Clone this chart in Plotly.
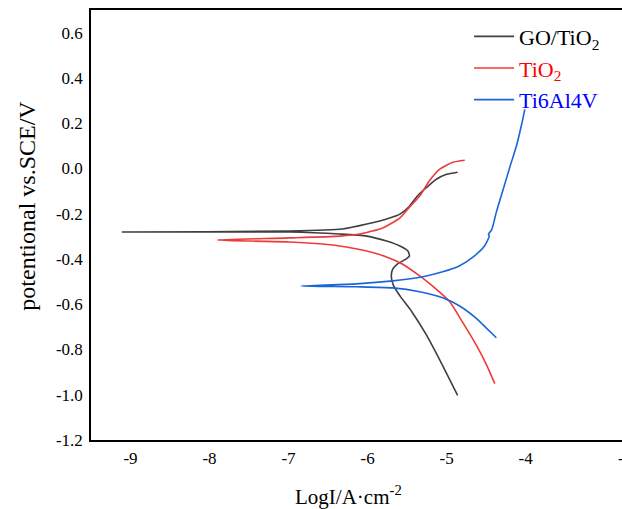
import plotly.graph_objects as go

# ---- data (log current density, potential) ----
# GO/TiO2
go_cath_logi = [-9.11, -8.25, -6.99, -6.35, -6.01, -5.76, -5.59, -5.49, -5.47, -5.51, -5.62, -5.68, -5.70, -5.67, -5.59, -5.44, -5.25, -5.05, -4.86]
go_cath_e = [-0.281, -0.281, -0.281, -0.290, -0.299, -0.321, -0.343, -0.365, -0.387, -0.400, -0.422, -0.444, -0.475, -0.519, -0.563, -0.633, -0.739, -0.871, -1.003]
go_anod_logi = [-9.11, -6.99, -6.32, -6.01, -5.72, -5.59, -5.47, -5.37, -5.25, -5.13, -5.00, -4.86]
go_anod_e = [-0.281, -0.277, -0.268, -0.246, -0.219, -0.202, -0.167, -0.122, -0.083, -0.048, -0.026, -0.017]

# TiO2
tio2_cath_logi = [-7.90, -7.49, -6.99, -6.57, -6.27, -6.01, -5.76, -5.56, -5.34, -5.18, -4.96, -4.80, -4.62, -4.49, -4.39]
tio2_cath_e = [-0.316, -0.321, -0.325, -0.334, -0.347, -0.365, -0.391, -0.422, -0.475, -0.519, -0.589, -0.678, -0.783, -0.871, -0.951]
tio2_anod_logi = [-7.90, -6.99, -6.35, -6.10, -5.81, -5.59, -5.47, -5.34, -5.22, -5.09, -4.92, -4.77]
tio2_anod_e = [-0.316, -0.307, -0.299, -0.290, -0.263, -0.219, -0.171, -0.122, -0.056, -0.004, 0.027, 0.036]

# Ti6Al4V
ti64_cath_logi = [-6.84, -6.14, -5.68, -5.34, -5.05, -4.84, -4.62, -4.49, -4.37]
ti64_cath_e = [-0.519, -0.523, -0.528, -0.545, -0.572, -0.607, -0.664, -0.708, -0.748]
ti64_anod_logi = [-6.84, -6.14, -5.68, -5.30, -5.05, -4.84, -4.65, -4.52, -4.46, -4.47, -4.43, -4.37, -4.29, -4.20, -4.11, -4.05, -4.01]
ti64_anod_e = [-0.519, -0.510, -0.497, -0.479, -0.457, -0.431, -0.387, -0.343, -0.300, -0.290, -0.272, -0.193, -0.100, 0.005, 0.107, 0.195, 0.261]

x_ticks = [-9, -8, -7, -6, -5, -4]
y_ticks = [0.6, 0.4, 0.2, 0.0, -0.2, -0.4, -0.6, -0.8, -1.0, -1.2]

series = [
    ("GO/TiO<sub>2</sub>", "#3f3f3f", "#000000", go_cath_logi, go_cath_e, go_anod_logi, go_anod_e),
    ("TiO<sub>2</sub>", "#f03a3a", "#ff0000", tio2_cath_logi, tio2_cath_e, tio2_anod_logi, tio2_anod_e),
    ("Ti6Al4V", "#1a66d9", "#0000ff", ti64_cath_logi, ti64_cath_e, ti64_anod_logi, ti64_anod_e),
]

FONT = "Liberation Serif"
TICKFONT = "Times New Roman"

fig = go.Figure()
for name, lc, tc, cx, cy, ax, ay in series:
    xs = list(reversed(cx)) + ax[1:]
    ys = list(reversed(cy)) + ay[1:]
    fig.add_trace(go.Scatter(
        x=xs, y=ys, mode="lines",
        line=dict(color=lc, width=1.6, shape="spline", smoothing=0.6),
        name=f"<span style='color:{tc}'>{name}</span>",
    ))

fig.update_layout(
    width=622, height=509,
    margin=dict(l=91, r=0, t=10, b=69),
    paper_bgcolor="white", plot_bgcolor="white",
    font=dict(family=FONT, size=17, color="black"),
    showlegend=True,
    legend=dict(
        x=0.712, y=0.987, xanchor="left", yanchor="top",
        bgcolor="rgba(0,0,0,0)", borderwidth=0,
        font=dict(family=FONT, size=22, color="black"),
        tracegroupgap=0, itemwidth=40,
    ),
    xaxis=dict(
        range=[-9.5, -2.78],
        tickvals=x_ticks, ticktext=[str(v) for v in x_ticks],
        showgrid=False, zeroline=False,
        showline=True, linecolor="black", linewidth=1.6,
        mirror=True, ticks="", ticklabelstandoff=2,
        tickfont=dict(family=TICKFONT, size=17, color="black"),
    ),
    yaxis=dict(
        range=[-1.2, 0.7],
        tickvals=y_ticks, ticktext=[f"{v:.1f}" for v in y_ticks],
        showgrid=False, zeroline=False,
        showline=True, linecolor="black", linewidth=1.6,
        mirror=False, ticks="", ticklabelstandoff=3,
        tickfont=dict(family=TICKFONT, size=17, color="black"),
    ),
    annotations=[
        dict(text="potentional vs.SCE/V", textangle=-90,
             xref="paper", yref="paper", x=-0.1205, y=0.545,
             xanchor="center", yanchor="middle", showarrow=False,
             font=dict(family=FONT, size=24, color="black")),
        dict(text="LogI/A·cm<sup>-2</sup>",
             xref="paper", yref="paper", x=0.484, y=-0.128,
             xanchor="center", yanchor="middle", showarrow=False,
             font=dict(family=FONT, size=21, color="black")),
        dict(text="-3",
             xref="paper", yref="paper", x=1.0, y=-0.042,
             xanchor="left", yanchor="middle", xshift=-6, showarrow=False,
             font=dict(family=TICKFONT, size=17, color="black")),
    ],
)

fig.write_html("out.html")
